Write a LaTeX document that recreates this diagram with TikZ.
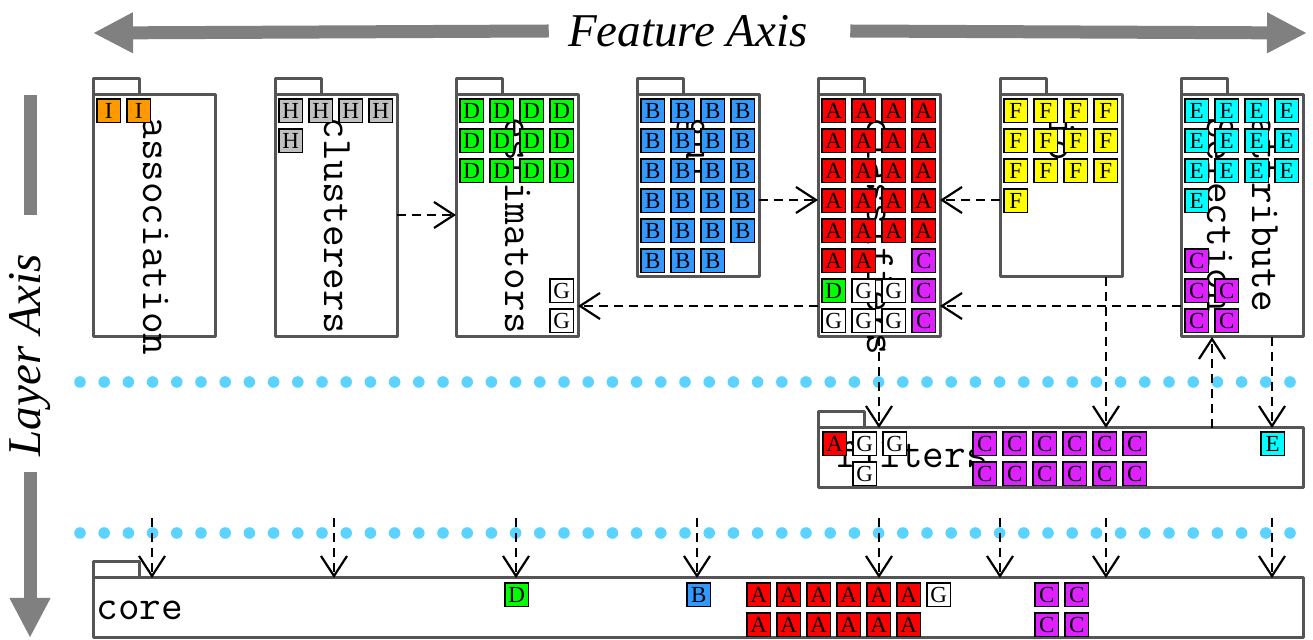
\documentclass[tikz,border=0pt]{standalone}
\usepackage{fontspec}
\setmainfont{Liberation Serif}
\usepackage{tikz}
\usetikzlibrary{arrows.meta}
\usepackage{xcolor}
\definecolor{fldgray}{HTML}{555555}
\definecolor{axisgray}{HTML}{808080}
\definecolor{dotblue}{HTML}{5CD3FF}
\definecolor{fI}{HTML}{FF9900}
\definecolor{fH}{HTML}{C0C0C0}
\definecolor{fD}{HTML}{00FF00}
\definecolor{fB}{HTML}{3399FF}
\definecolor{fA}{HTML}{FF0000}
\definecolor{fF}{HTML}{FFFF00}
\definecolor{fE}{HTML}{00FFFF}
\definecolor{fC}{HTML}{DD22FF}
\definecolor{fG}{HTML}{FFFFFF}

% folder: name, left, top, width, height
\newcommand{\pkgfolder}[5]{%
  \draw[pkgtab] (#2,#3) rectangle ++(46,-16);
  \node[pkg, minimum width=#4, minimum height=#5] (#1) at (#2,#3) {};}
% row of feature cells: name prefix, left, top, letters
\newcommand{\cellrow}[4]{%
  \foreach \ltr [count=\i from 0] in {#4}
    \node[cell, fill=f\ltr] (#1-\i) at (#2+30*\i,#3) {\ltr};}

\begin{document}
\begin{tikzpicture}[x=0.5pt, y=-0.5pt,
    pkg/.style={draw=fldgray, line width=1.5pt, line join=round,
                anchor=north west, inner sep=0pt, outer sep=0pt},
    pkgtab/.style={draw=fldgray, line width=1.5pt, line join=round},
    pkglabel/.style={font=\fontsize{21}{22.5}\selectfont\ttfamily, inner sep=0pt},
    cell/.style={draw, line width=0.9pt, minimum size=11.8pt, inner sep=0pt,
                 anchor=north west, font=\fontsize{11.5}{11.5}\selectfont},
    dep/.style={dash pattern=on 4.5pt off 3pt, line width=1.1pt,
                -{Straight Barb[length=10pt, width=13pt]}},
    axisbar/.style={axisgray, line width=6.5pt,
                    -{Triangle[length=20pt, width=19pt]}},
    axislabel/.style={font=\fontsize{23.5}{28}\selectfont\itshape, inner sep=0pt},
    layerdots/.style={dotblue, line width=5.8pt, line cap=round,
                      dash pattern=on 0pt off 12.1pt}]
  \useasboundingbox (0,0) rectangle (1313,640);

  % axes
  \node[axislabel] (fax) at (688,31) {Feature Axis};
  \draw[axisbar] ([xshift=-9.5pt]fax.west) -- (93,33);
  \draw[axisbar] ([xshift=21pt]fax.east) -- (1307,33);
  \node[axislabel, rotate=90] (lax) at (30,355) {Layer Axis};
  \draw[axisbar, -] (30,95) -- (30,215);
  \draw[axisbar] (30,472) -- (30,638);

  % layer borders
  \draw[layerdots] (80,382) -- (1313,382);
  \draw[layerdots] (80,533) -- (1313,533);

  % top layer packages
  \pkgfolder{assoc}{93}{95}{61pt}{121pt}
  \pkgfolder{clust}{275}{95}{61pt}{121pt}
  \pkgfolder{estim}{456}{95}{61pt}{121pt}
  \pkgfolder{gui}{637}{95}{61pt}{91pt}
  \pkgfolder{classif}{818}{95}{61pt}{121pt}
  \pkgfolder{expmt}{1000}{95}{61pt}{91pt}
  \pkgfolder{attsel}{1181}{95}{61pt}{121pt}
  \pkgfolder{filters}{818}{428}{242.5pt}{30pt}
  \pkgfolder{core}{93}{578}{605pt}{30pt}

  \node[pkglabel, rotate=-90, anchor=base west] (assoc-l) at (143,117) {association};
  \node[pkglabel, rotate=-90, anchor=base west] (clust-l) at (324,117) {clusterers};
  \node[pkglabel, rotate=-90, anchor=base west] (estim-l) at (505,117) {estimators};
  \node[pkglabel, rotate=-90, anchor=base west] (gui-l) at (686,117) {gui};
  \node[pkglabel, rotate=-90, anchor=base west] (classif-l) at (867,117) {classifiers};
  \node[pkglabel, rotate=-90, anchor=base west] (expmt-l) at (1049,117) {io};
  \node[pkglabel, rotate=-90, anchor=north west, align=left] (attsel-l) at (1279,117)
    {attribute\\Selection};
  \node[pkglabel, anchor=base west] (filters-l) at (836,468) {filters};
  \node[pkglabel, anchor=base west] (core-l) at (96,620) {core};

  % features inside the packages
  \cellrow{as0}{96}{98}{I,I}
  \cellrow{cl0}{278}{98}{H,H,H,H}
  \cellrow{cl1}{278}{128}{H}
  \foreach \r in {0,1,2}
    {\cellrow{es\r}{459}{98+30*\r}{D,D,D,D}}
  \cellrow{es6}{549}{278}{G}
  \cellrow{es7}{549}{308}{G}
  \foreach \r in {0,...,4}
    {\cellrow{gu\r}{640}{98+30*\r}{B,B,B,B}}
  \cellrow{gu5}{640}{248}{B,B,B}
  \foreach \r in {0,...,4}
    {\cellrow{ca\r}{821}{98+30*\r}{A,A,A,A}}
  \cellrow{ca5}{821}{248}{A,A}
  \cellrow{ca5c}{911}{248}{C}
  \cellrow{ca6}{821}{278}{D,G,G,C}
  \cellrow{ca7}{821}{308}{G,G,G,C}
  \foreach \r in {0,1,2}
    {\cellrow{ex\r}{1003}{98+30*\r}{F,F,F,F}}
  \cellrow{ex3}{1003}{188}{F}
  \foreach \r in {0,1,2}
    {\cellrow{at\r}{1184}{98+30*\r}{E,E,E,E}}
  \cellrow{at3}{1184}{188}{E}
  \cellrow{at5}{1184}{248}{C}
  \cellrow{at6}{1184}{278}{C,C}
  \cellrow{at7}{1184}{308}{C,C}

  \cellrow{fi0}{822}{431}{A,G,G}
  \cellrow{fi0c}{972}{431}{C,C,C,C,C,C}
  \cellrow{fi0e}{1260}{431}{E}
  \cellrow{fi1}{852}{461}{G}
  \cellrow{fi1c}{972}{461}{C,C,C,C,C,C}

  \cellrow{co0d}{504}{582}{D}
  \cellrow{co0b}{686}{582}{B}
  \cellrow{co0}{746}{582}{A,A,A,A,A,A,G}
  \cellrow{co0c}{1034}{582}{C,C}
  \cellrow{co1}{746}{612}{A,A,A,A,A,A}
  \cellrow{co1c}{1034}{612}{C,C}

  % dependencies
  \coordinate (ya) at (0,215);
  \coordinate (yb) at (0,200);
  \coordinate (yc) at (0,306);
  \coordinate (xf) at (1106,0);
  \coordinate (xu) at (1212,0);
  \coordinate (xd) at (1272,0);
  \draw[dep] (clust.east |- ya) -- (estim.west |- ya);
  \draw[dep] (gui.east |- yb) -- (classif.west |- yb);
  \draw[dep] (expmt.west |- yb) -- (classif.east |- yb);
  \draw[dep] (classif.west |- yc) -- (estim.east |- yc);
  \draw[dep] (attsel.west |- yc) -- (classif.east |- yc);
  \draw[dep] (classif.south) -- (filters.north -| classif.south);
  \draw[dep] (expmt.south -| xf) -- (filters.north -| xf);
  \draw[dep] (filters.north -| xu) -- (attsel.south -| xu);
  \draw[dep] (attsel.south -| xd) -- (filters.north -| xd);
  \foreach \x [count=\i] in {152,334,516,697,879,1000,1106,1272}
    \draw[dep] (\x,518) coordinate (down\i) -- (core.north -| down\i);
\end{tikzpicture}
\end{document}
